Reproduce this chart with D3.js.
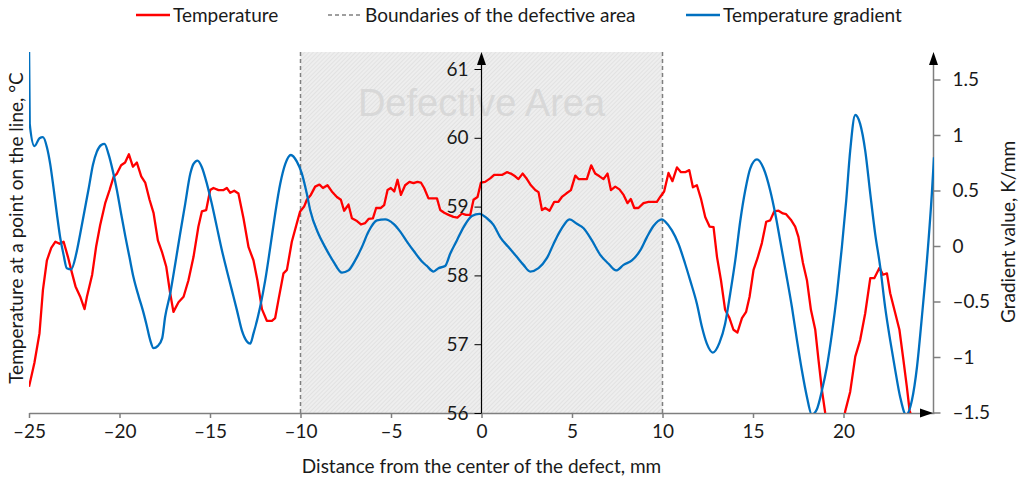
<!DOCTYPE html>
<html>
<head>
<meta charset="utf-8">
<script src="https://cdn.jsdelivr.net/npm/d3@7"></script>
<style>
  body { margin: 0; background: #fff; }
  text { font-family: Lato, "Open Sans", sans-serif; fill: #1a1a1a; }
</style>
</head>
<body>
<div id="plot"></div>
<script>
// temperature along the line, [distance mm, temperature °C]
const temperature = [
  [-25.00,56.38],[-24.70,56.73],[-24.42,57.16],[-24.23,57.79],[-24.01,58.22],[-23.77,58.40],[-23.54,58.49],[-23.31,58.46],
  [-23.09,58.49],[-22.85,58.27],[-22.67,58.08],[-22.43,57.84],[-22.17,57.69],[-21.93,57.51],[-21.80,57.69],[-21.51,58.01],
  [-21.29,58.42],[-21.07,58.73],[-20.79,59.05],[-20.55,59.24],[-20.33,59.43],[-20.14,59.48],[-19.91,59.60],[-19.69,59.64],
  [-19.48,59.76],[-19.26,59.58],[-19.04,59.64],[-18.80,59.44],[-18.58,59.35],[-18.34,59.10],[-18.12,58.91],[-17.88,58.51],
  [-17.64,58.33],[-17.42,58.13],[-17.20,57.74],[-17.02,57.47],[-16.74,57.61],[-16.46,57.69],[-16.19,57.93],[-15.91,58.27],
  [-15.64,58.71],[-15.45,58.93],[-15.21,58.95],[-14.99,59.24],[-14.81,59.27],[-14.53,59.24],[-14.25,59.24],[-14.07,59.27],
  [-13.88,59.20],[-13.66,59.23],[-13.43,59.19],[-13.15,58.83],[-12.87,58.41],[-12.60,58.22],[-12.38,57.93],[-12.13,57.51],
  [-11.86,57.34],[-11.58,57.34],[-11.40,57.38],[-11.22,57.64],[-10.94,58.03],[-10.75,58.08],[-10.48,58.49],[-10.20,58.76],
  [-10.02,58.93],[-9.80,59.00],[-9.65,59.10],[-9.43,59.17],[-9.19,59.29],[-8.95,59.32],[-8.76,59.27],[-8.51,59.31],
  [-8.27,59.22],[-7.99,59.14],[-7.77,59.10],[-7.59,58.94],[-7.35,59.03],[-7.16,58.83],[-6.88,58.79],[-6.66,58.74],
  [-6.43,58.76],[-6.24,58.82],[-6.00,58.83],[-5.82,58.98],[-5.56,58.98],[-5.38,59.02],[-5.19,59.24],[-5.01,59.27],
  [-4.82,59.22],[-4.64,59.39],[-4.45,59.17],[-4.22,59.31],[-3.98,59.36],[-3.76,59.34],[-3.54,59.36],[-3.35,59.35],
  [-3.17,59.27],[-2.93,59.12],[-2.69,59.12],[-2.46,59.12],[-2.28,58.95],[-2.06,58.91],[-1.82,58.88],[-1.55,58.85],
  [-1.33,58.84],[-1.08,58.90],[-0.86,58.88],[-0.62,58.88],[-0.44,59.10],[-0.22,59.14],[-0.03,59.35],[0.20,59.36],
  [0.48,59.41],[0.70,59.46],[0.94,59.46],[1.13,59.46],[1.40,59.50],[1.62,59.48],[1.86,59.44],[2.04,59.40],
  [2.27,59.48],[2.51,59.40],[2.73,59.31],[2.97,59.24],[3.15,59.21],[3.34,58.95],[3.52,58.98],[3.76,58.94],
  [4.02,59.07],[4.25,59.07],[4.44,59.14],[4.68,59.19],[4.94,59.24],[5.18,59.45],[5.36,59.40],[5.64,59.40],
  [5.82,59.40],[6.06,59.60],[6.28,59.48],[6.52,59.44],[6.74,59.40],[6.96,59.48],[7.15,59.24],[7.39,59.29],
  [7.62,59.25],[7.85,59.17],[8.07,59.05],[8.25,59.11],[8.44,58.98],[8.67,58.98],[8.95,59.05],[9.23,59.07],
  [9.69,59.07],[9.87,59.14],[10.09,59.22],[10.33,59.49],[10.55,59.37],[10.80,59.57],[11.02,59.50],[11.25,59.50],
  [11.48,59.53],[11.68,59.28],[11.90,59.31],[12.12,59.12],[12.36,58.85],[12.60,58.71],[12.82,58.70],[13.01,58.27],
  [13.23,57.93],[13.46,57.50],[13.70,57.38],[13.92,57.21],[14.14,57.17],[14.39,57.38],[14.62,57.47],[14.81,57.69],
  [15.03,58.08],[15.25,58.25],[15.49,58.47],[15.73,58.78],[15.95,58.80],[16.17,58.93],[16.41,58.94],[16.65,58.90],
  [16.83,58.89],[17.09,58.81],[17.33,58.71],[17.51,58.56],[17.76,58.18],[17.98,57.93],[18.20,57.50],[18.44,57.21],
  [18.62,56.77],[18.81,56.33],[18.99,56.00],[19.38,55.50],[19.82,55.55],[20.09,56.02],[20.37,56.31],[20.65,56.82],
  [20.92,57.06],[21.20,57.45],[21.48,57.96],[21.70,57.96],[21.99,58.11],[22.18,58.01],[22.40,58.03],[22.58,57.74],
  [22.86,57.45],[23.09,57.21],[23.31,56.77],[23.50,56.38],[23.65,56.04],[24.24,55.50],[25.00,55.30]
];

// temperature gradient, [distance mm, K/mm]
const gradient = [
  [-25.00,1.85],[-24.96,1.10],[-24.70,0.90],[-24.42,0.97],[-24.23,0.98],[-24.01,0.89],[-23.83,0.74],[-23.65,0.53],
  [-23.46,0.29],[-23.28,0.08],[-23.09,-0.08],[-22.91,-0.20],[-22.67,-0.21],[-22.39,-0.07],[-22.17,0.11],[-21.93,0.32],
  [-21.69,0.53],[-21.47,0.73],[-21.25,0.85],[-21.01,0.91],[-20.83,0.92],[-20.61,0.83],[-20.36,0.67],[-20.14,0.50],
  [-19.91,0.29],[-19.67,0.08],[-19.45,-0.10],[-19.23,-0.28],[-18.93,-0.46],[-18.71,-0.58],[-18.52,-0.70],[-18.30,-0.85],
  [-18.12,-0.92],[-17.88,-0.90],[-17.64,-0.83],[-17.48,-0.64],[-17.20,-0.43],[-16.92,-0.16],[-16.65,0.11],[-16.37,0.38],
  [-16.09,0.65],[-15.91,0.74],[-15.69,0.77],[-15.45,0.71],[-15.17,0.56],[-14.90,0.38],[-14.62,0.17],[-14.34,-0.04],
  [-14.07,-0.22],[-13.79,-0.40],[-13.51,-0.58],[-13.24,-0.76],[-12.96,-0.86],[-12.78,-0.88],[-12.60,-0.79],[-12.23,-0.55],
  [-11.95,-0.31],[-11.67,-0.01],[-11.40,0.29],[-11.12,0.56],[-10.84,0.74],[-10.53,0.82],[-10.20,0.76],[-9.92,0.65],
  [-9.65,0.47],[-9.46,0.32],[-9.01,0.11],[-8.64,-0.01],[-8.18,-0.14],[-7.71,-0.24],[-7.35,-0.22],[-6.98,-0.13],
  [-6.61,-0.01],[-6.24,0.13],[-5.78,0.23],[-5.32,0.24],[-4.86,0.20],[-4.49,0.13],[-4.12,0.04],[-3.72,-0.05],
  [-3.29,-0.14],[-3.02,-0.18],[-2.65,-0.23],[-2.38,-0.20],[-2.01,-0.18],[-1.73,-0.07],[-1.36,0.05],[-0.99,0.17],
  [-0.53,0.27],[-0.11,0.29],[0.30,0.25],[0.66,0.19],[1.03,0.08],[1.49,-0.01],[1.96,-0.10],[2.32,-0.17],
  [2.69,-0.23],[3.15,-0.20],[3.61,-0.11],[4.07,0.05],[4.44,0.16],[4.86,0.24],[5.27,0.20],[5.64,0.16],
  [6.10,0.05],[6.56,-0.08],[7.02,-0.16],[7.44,-0.22],[7.85,-0.17],[8.31,-0.13],[8.77,-0.04],[9.14,0.08],
  [9.50,0.18],[9.97,0.24],[10.15,0.22],[10.52,0.14],[10.88,0.02],[11.25,-0.16],[11.53,-0.31],[11.90,-0.52],
  [12.18,-0.73],[12.45,-0.88],[12.78,-0.96],[13.15,-0.87],[13.46,-0.70],[13.74,-0.43],[14.02,-0.13],[14.30,0.23],
  [14.57,0.50],[14.85,0.70],[15.22,0.78],[15.58,0.70],[15.95,0.50],[16.23,0.29],[16.50,0.05],[16.83,-0.25],
  [17.15,-0.55],[17.43,-0.85],[17.70,-1.12],[17.98,-1.36],[18.25,-1.52],[18.53,-1.47],[18.81,-1.30],[19.08,-1.09],
  [19.36,-0.79],[19.64,-0.43],[19.91,-0.01],[20.15,0.41],[20.37,0.86],[20.65,1.18],[20.92,1.10],[21.20,0.86],
  [21.48,0.47],[21.75,0.11],[22.03,-0.19],[22.30,-0.55],[22.58,-0.85],[22.86,-1.12],[23.13,-1.36],[23.46,-1.52],
  [23.78,-1.39],[24.06,-1.09],[24.33,-0.64],[24.61,-0.13],[24.88,0.47],[25.00,0.80]
];

const defectBounds = [-10, 10];
const xTicks = [-25, -20, -15, -10, -5, 0, 5, 10, 15, 20];
const tempTicks = [56, 57, 58, 59, 60, 61];
const gradTicks = [-1.5, -1, -0.5, 0, 0.5, 1, 1.5];
const legendItems = [
  {label: "Temperature", color: "#ff0000", dash: null},
  {label: "Boundaries of the defective area", color: "#808080", dash: "4,3"},
  {label: "Temperature gradient", color: "#0070c0", dash: null}
];

const width = 1022;
const height = 481;
const plot = {left: 29, right: 934, top: 52, bottom: 413};

const svg = d3.select("#plot").append("svg")
    .attr("width", width)
    .attr("height", height);

const x = d3.scaleLinear().domain([-25, 25]).range([plot.left, plot.right]);
const yT = d3.scaleLinear().domain([56, 61]).range([413, 69]);
const yG = d3.scaleLinear().domain([-1.5, 1.5]).range([412.5, 79.5]);

const dash = s => String(s).replace("-", "\u2013");

const defs = svg.append("defs");
const pat = defs.append("pattern")
    .attr("id", "hatch")
    .attr("width", 3).attr("height", 3)
    .attr("patternUnits", "userSpaceOnUse")
    .attr("patternTransform", "rotate(45)");
pat.append("rect").attr("width", 3).attr("height", 3).attr("fill", "#eeeeee");
pat.append("line").attr("x1", 0).attr("y1", 0).attr("x2", 0).attr("y2", 3)
    .attr("stroke", "#d6d6d6").attr("stroke-width", 1);

defs.append("clipPath").attr("id", "clip")
  .append("rect")
    .attr("x", plot.left).attr("y", plot.top)
    .attr("width", plot.right - plot.left).attr("height", plot.bottom - plot.top);

// defective area
svg.append("rect")
    .attr("x", x(defectBounds[0]))
    .attr("y", plot.top)
    .attr("width", x(defectBounds[1]) - x(defectBounds[0]))
    .attr("height", plot.bottom - plot.top)
    .attr("fill", "url(#hatch)");

svg.append("text")
    .attr("x", x(0)).attr("y", 116)
    .attr("text-anchor", "middle")
    .style("font-family", "'Liberation Sans', Arial, sans-serif")
    .style("font-size", "38px")
    .style("fill", "#d8d8d8")
    .text("Defective Area");

svg.selectAll(".bound")
  .data(defectBounds)
  .join("line")
    .attr("x1", d => x(d)).attr("x2", d => x(d))
    .attr("y1", plot.top).attr("y2", plot.bottom)
    .attr("stroke", "#7f7f7f")
    .attr("stroke-width", 1.5)
    .attr("stroke-dasharray", "4,3");

// x axis
const xAxis = svg.append("g")
    .attr("transform", `translate(0,${plot.bottom})`)
    .call(d3.axisBottom(x).tickValues(xTicks).tickSize(5).tickSizeOuter(0).tickFormat(dash));
xAxis.select(".domain").attr("stroke", "#7f7f7f").attr("stroke-width", 1.5);
xAxis.selectAll(".tick line").attr("stroke", "#7f7f7f").attr("stroke-width", 1.5);
xAxis.selectAll(".tick text").attr("y", 12).style("font-size", "19px").attr("fill", "#1a1a1a");

// right gradient axis
const gAxis = svg.append("g")
    .attr("transform", `translate(${plot.right - 0.5},0)`)
    .call(d3.axisRight(yG).tickValues(gradTicks).tickSize(7).tickSizeOuter(0).tickFormat(dash));
gAxis.select(".domain").attr("d", `M0,${plot.bottom}V${plot.top + 8}`)
    .attr("stroke", "#7f7f7f").attr("stroke-width", 1.5);
gAxis.selectAll(".tick line").attr("stroke", "#7f7f7f").attr("stroke-width", 1.5);
gAxis.selectAll(".tick text").attr("x", 19).style("font-size", "19px").attr("fill", "#1a1a1a");

// lines
const lines = svg.append("g").attr("clip-path", "url(#clip)");
lines.append("path")
    .datum(temperature)
    .attr("d", d3.line().x(d => x(d[0])).y(d => yT(d[1])))
    .attr("fill", "none")
    .attr("stroke", "#ff0000")
    .attr("stroke-width", 2.3)
    .attr("stroke-linejoin", "round");
lines.append("path")
    .datum(gradient)
    .attr("d", d3.line().curve(d3.curveMonotoneX).x(d => x(d[0])).y(d => yG(d[1])))
    .attr("fill", "none")
    .attr("stroke", "#0070c0")
    .attr("stroke-width", 2.3);

// central temperature axis
const tAxis = svg.append("g")
    .attr("transform", `translate(${x(0)},0)`)
    .call(d3.axisLeft(yT).tickValues(tempTicks).tickSize(7).tickSizeOuter(0).tickFormat(d3.format("d")));
tAxis.select(".domain").attr("d", `M0,${plot.bottom}V${plot.top + 8}`)
    .attr("stroke", "#000").attr("stroke-width", 1.2);
tAxis.selectAll(".tick line").attr("stroke", "#000");
tAxis.selectAll(".tick text").attr("x", -13).style("font-size", "19px").attr("fill", "#1a1a1a");

// arrow heads
const arrows = [
  `M${x(0)},${plot.top} l-4.5,13 l9,0 z`,
  `M${plot.right - 0.5},${plot.top} l-4.5,13 l9,0 z`,
  `M${plot.right - 1},${plot.bottom} l-13,-4.5 l0,9 z`
];
svg.selectAll(".arrow").data(arrows).join("path")
    .attr("d", d => d).attr("fill", "#000");

// axis titles
svg.append("text")
    .attr("x", x(0)).attr("y", 473)
    .attr("text-anchor", "middle")
    .style("font-size", "19px")
    .text("Distance from the center of the defect, mm");

svg.append("text")
    .attr("transform", "translate(23,228) rotate(-90)")
    .attr("text-anchor", "middle")
    .style("font-size", "19px")
    .text("Temperature at a point on the line, \u00B0C");

svg.append("text")
    .attr("transform", "translate(1015,232) rotate(-90)")
    .attr("text-anchor", "middle")
    .style("font-size", "19px")
    .text("Gradient value, K/mm");

// legend
const legendX = [136, 328, 686];
const legend = svg.append("g");
legendItems.forEach((item, i) => {
  const lg = legend.append("g").attr("transform", `translate(${legendX[i]},15)`);
  lg.append("line")
      .attr("x1", 0).attr("x2", 34)
      .attr("stroke", item.color)
      .attr("stroke-width", item.dash ? 1.5 : 2.3)
      .attr("stroke-dasharray", item.dash);
  lg.append("text")
      .attr("x", 37).attr("dy", "0.35em")
      .style("font-size", "19px")
      .text(item.label);
});
</script>
</body>
</html>
